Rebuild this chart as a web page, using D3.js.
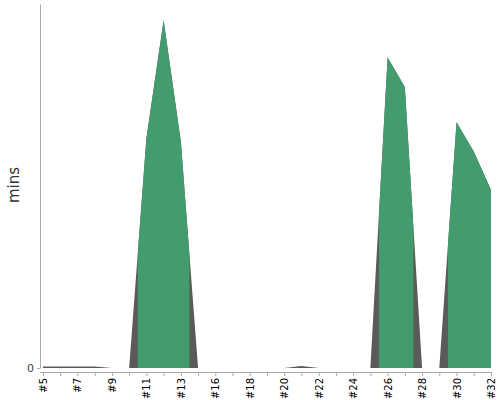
<!DOCTYPE html>
<html>
<head>
<meta charset="utf-8">
<script src="https://cdn.jsdelivr.net/npm/d3@7"></script>
<style>
  body { margin: 0; background: #fff; }
  text { font-family: "DejaVu Sans", sans-serif; }
</style>
</head>
<body>
<div id="chart"></div>
<script>
// build numbers on the x axis (#15 has no run)
const builds = ["#5", "#6", "#7", "#8", "#9", "#10", "#11", "#12", "#13", "#14",
  "#16", "#17", "#18", "#19", "#20", "#21", "#22", "#23", "#24", "#25",
  "#26", "#27", "#28", "#29", "#30", "#31", "#32"];
// duration of each build, minutes
const mins = [0.15, 0.15, 0.15, 0.15, 0, 0, 22.7, 34.4, 22.4, 0,
  0, 0, 0, 0, 0, 0.2, 0, 0, 0, 0,
  30.7, 27.8, 0, 0, 24.3, 21.4, 17.6];
const yTicks = [0];
const yMax = 36;
// builds that took at least this long get the green band
const minHighlight = 1;

const width = 500;
const height = 400;

const svg = d3.select("#chart").append("svg").attr("width", width).attr("height", height);

const x = d3.scalePoint().domain(builds).range([43, 491]);
const y = d3.scaleLinear().domain([0, yMax]).range([368, 4]);
const step = x.step();

//clip everything to the plot
const defs = svg.append("defs");
defs.append("clipPath").attr("id", "plot")
  .append("rect")
  .attr("x", x.range()[0]).attr("y", 0)
  .attr("width", x.range()[1] - x.range()[0]).attr("height", y(0));

//green bands, one per long build
const long = builds.filter((b, i) => mins[i] >= minHighlight);
defs.append("clipPath").attr("id", "bands")
  .selectAll("rect").data(long)
  .enter()
  .append("rect")
  .attr("x", d => x(d) - step / 2)
  .attr("y", 0)
  .attr("width", step)
  .attr("height", y(0));

const area = d3.area()
  .x((d, i) => x(builds[i]))
  .y0(y(0))
  .y1(d => y(d));

const g = svg.append("g").attr("clip-path", "url(#plot)");
g.append("path").datum(mins).attr("d", area).attr("fill", "#5a5a5a");
g.append("g").attr("clip-path", "url(#bands)")
  .append("path").datum(mins).attr("d", area).attr("fill", "#439c6d");

//y axis
const yAxis = svg.append("g").attr("transform", "translate(40,0)")
  .call(d3.axisLeft(y).tickValues(yTicks).tickSize(3).tickSizeOuter(0).tickPadding(3));
yAxis.select(".domain").attr("stroke", "#aaa");
yAxis.selectAll(".tick line").attr("stroke", "#aaa");
yAxis.selectAll(".tick text").attr("fill", "#444").style("font-size", "11px");

//x axis
const xAxis = svg.append("g").attr("transform", `translate(0,${y(0) + 4})`)
  .call(d3.axisBottom(x).tickSize(4).tickSizeOuter(0)
    .tickFormat((d, i) => i % 2 === 0 ? d : ""));
xAxis.select(".domain").attr("d", `M40,0.5H${x.range()[1] + 1}`).attr("stroke", "#aaa");
xAxis.selectAll(".tick line").attr("stroke", "#aaa");
xAxis.selectAll(".tick text")
  .attr("transform", "rotate(-90)")
  .attr("text-anchor", "end")
  .attr("x", -6)
  .attr("y", 0)
  .attr("dy", "0.35em")
  .attr("fill", "#000")
  .style("font-size", "10px");

//y title
svg.append("text")
  .attr("transform", "translate(14,185) rotate(-90)")
  .attr("text-anchor", "middle")
  .attr("dominant-baseline", "central")
  .attr("fill", "#333")
  .style("font-size", "15px")
  .text("mins");
</script>
</body>
</html>
